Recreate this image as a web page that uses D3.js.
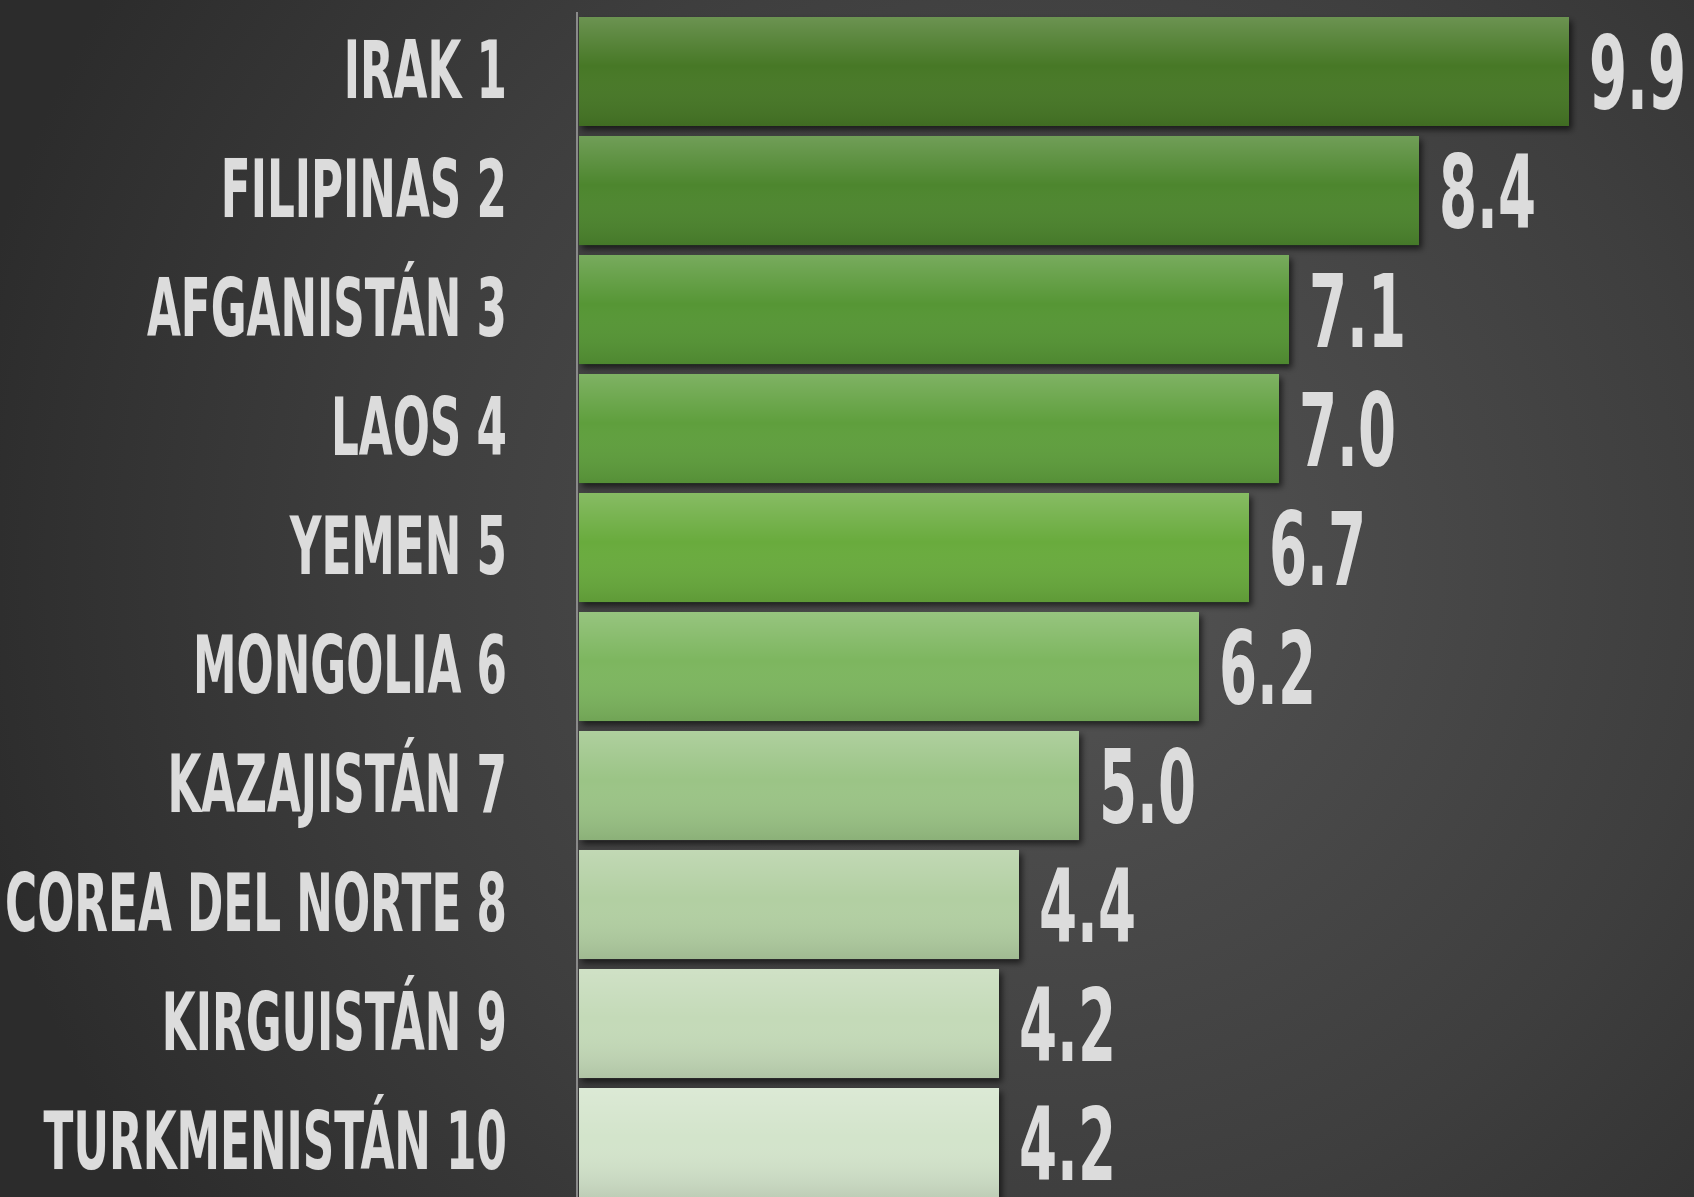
<!DOCTYPE html>
<html><head>
<meta charset="utf-8">
<script src="https://d3js.org/d3.v7.min.js"></script>
<style>
  body { margin: 0; background: #333; }
  .label, .value {
    fill: #dcdcdc;
    stroke: rgba(70,70,70,0.7);
    stroke-width: 1.2px;
    paint-order: stroke;
    font-family: "Liberation Sans Narrow", "DejaVu Sans Condensed", "Liberation Sans", sans-serif;
    font-weight: bold;
  }
</style>
</head>
<body>
<svg id="chart" width="1694" height="1197"></svg>
<script>

  // data
  const countries = ["IRAK", "FILIPINAS", "AFGANISTÁN", "LAOS", "YEMEN", "MONGOLIA", "KAZAJISTÁN", "COREA DEL NORTE", "KIRGUISTÁN", "TURKMENISTÁN"];
  const ranks = [1, 2, 3, 4, 5, 6, 7, 8, 9, 10];
  const values = [9.9, 8.4, 7.1, 7.0, 6.7, 6.2, 5.0, 4.4, 4.2, 4.2];

  const svg = d3.select("#chart");
  const width = +svg.attr("width");
  const height = +svg.attr("height");

  const rows = countries.map((c, i) => ({ name: c + " " + ranks[i], value: values[i], i: i }));

  const x = d3.scaleLinear().domain([0, 10]).range([579, 1579]);
  const y = d3.scaleBand().domain(d3.range(rows.length)).range([12, 1202])
              .paddingInner(0.084).paddingOuter(0.042);

  // bar colours go from dark green (top) to pale green (bottom)
  const color = d3.scaleLinear()
      .domain([0, 1, 2, 3, 4, 5, 6, 7, 8, 9])
      .range(["#467828", "#4d862d", "#579636", "#5f9f3c", "#69ab3e", "#7db65e", "#9bc486", "#b2cfa2", "#c4dab8", "#d3e4cb"]);

  const defs = svg.append("defs");

  // dark radial background
  const bg = defs.append("radialGradient").attr("id", "bg")
      .attr("gradientUnits", "userSpaceOnUse")
      .attr("cx", 1050).attr("cy", 560).attr("r", 1100);
  bg.append("stop").attr("offset", "0%").attr("stop-color", "#545454");
  bg.append("stop").attr("offset", "60%").attr("stop-color", "#3e3e3e");
  bg.append("stop").attr("offset", "100%").attr("stop-color", "#2c2c2c");

  // glossy overlay shared by every bar
  const gloss = defs.append("linearGradient").attr("id", "gloss")
      .attr("x1", 0).attr("y1", 0).attr("x2", 0).attr("y2", 1);
  gloss.append("stop").attr("offset", "0%").attr("stop-color", "#fff").attr("stop-opacity", 0.2);
  gloss.append("stop").attr("offset", "45%").attr("stop-color", "#fff").attr("stop-opacity", 0);
  gloss.append("stop").attr("offset", "100%").attr("stop-color", "#000").attr("stop-opacity", 0.1);

  const shadow = defs.append("filter").attr("id", "shadow")
      .attr("x", "-5%").attr("y", "-10%").attr("width", "110%").attr("height", "130%");
  shadow.append("feDropShadow").attr("dx", 3).attr("dy", 4).attr("stdDeviation", 3)
      .attr("flood-color", "#000").attr("flood-opacity", 0.6);

  svg.append("rect").attr("width", width).attr("height", height).attr("fill", "url(#bg)");

  // bars
  const bars = svg.append("g").selectAll("g.bar").data(rows).join("g").attr("class", "bar");
  bars.append("rect")
      .attr("x", x(0))
      .attr("y", d => y(d.i))
      .attr("width", d => x(d.value) - x(0))
      .attr("height", y.bandwidth())
      .attr("fill", d => color(d.i))
      .attr("filter", "url(#shadow)");
  bars.append("rect")
      .attr("x", x(0))
      .attr("y", d => y(d.i))
      .attr("width", d => x(d.value) - x(0))
      .attr("height", y.bandwidth())
      .attr("fill", "url(#gloss)");

  // axis line
  svg.append("line")
      .attr("x1", x(0) - 2).attr("x2", x(0) - 2)
      .attr("y1", 12).attr("y2", height)
      .attr("stroke", "#8a8a8a").attr("stroke-width", 2);

  // category labels, squeezed horizontally to look like a condensed display face
  const labels = svg.append("g").selectAll("text.label").data(rows).join("text")
      .attr("class", "label")
      .attr("font-size", 80)
      .attr("text-anchor", "end")
      .text(d => d.name);
  const longest = labels.filter(d => d.i === 7).node().getComputedTextLength();
  const sxLabel = 502 / longest;
  labels.attr("transform", d => "translate(507," + (y(d.i) + y.bandwidth() / 2 + 26) + ") scale(" + sxLabel + ",1)");

  // value labels
  const vals = svg.append("g").selectAll("text.value").data(rows).join("text")
      .attr("class", "value")
      .attr("font-size", 102)
      .text(d => d3.format(".1f")(d.value));
  const w99 = vals.filter(d => d.i === 0).node().getComputedTextLength();
  const sxVal = 97 / w99;
  vals.attr("transform", d => "translate(" + (x(d.value) + 20) + "," + (y(d.i) + y.bandwidth() / 2 + 37) + ") scale(" + sxVal + ",1)");

</script>
</body>
</html>
